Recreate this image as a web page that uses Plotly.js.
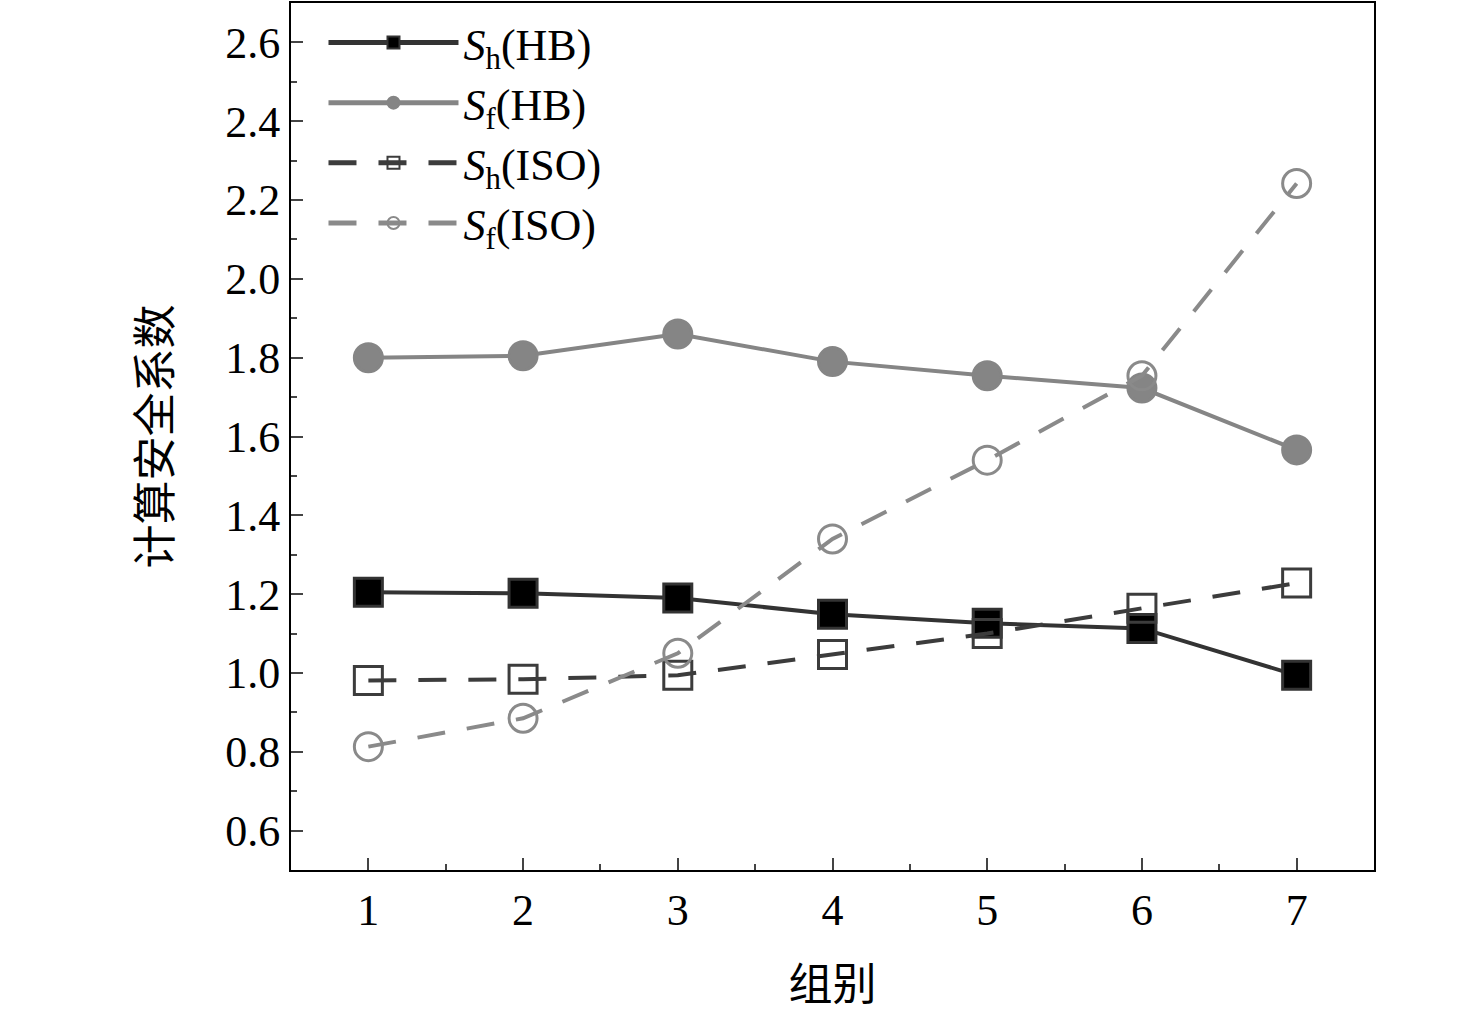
<!DOCTYPE html>
<html>
<head>
<meta charset="utf-8">
<script src="https://cdn.plot.ly/plotly-3.0.1.min.js"></script>
<style>body{margin:0;background:#fff}</style>
</head>
<body>
<div id="plot" style="width:1476px;height:1033px"></div>
<script>
// 组别与四组计算安全系数
let groups = [1, 2, 3, 4, 5, 6, 7];
let shHB = [1.205, 1.202, 1.19, 1.149, 1.126, 1.113, 0.994];
let sfHB = [1.80, 1.805, 1.86, 1.79, 1.754, 1.723, 1.566];
let shISO = [0.981, 0.984, 0.994, 1.047, 1.10, 1.164, 1.228];
let sfISO = [0.813, 0.885, 1.05, 1.34, 1.54, 1.754, 2.242];

function trace(y, name, color, symbol, dash, mfill) {
  return {
    x: groups, y: y, name: name, mode: "lines+markers", type: "scatter",
    line: {color: color, width: 4, dash: dash},
    marker: {symbol: symbol, size: 28, color: mfill, line: {color: color, width: 3}}
  };
}

var data = [
  trace(shHB, "<i>S</i><sub>h</sub>(HB)", "#333333", "square", "solid", "#000000"),
  trace(sfHB, "<i>S</i><sub>f</sub>(HB)", "#858585", "circle", "solid", "#858585"),
  trace(shISO, "<i>S</i><sub>h</sub>(ISO)", "#3c3c3c", "square-open", "28px,22px", "#3c3c3c"),
  trace(sfISO, "<i>S</i><sub>f</sub>(ISO)", "#8a8a8a", "circle-open", "28px,22px", "#8a8a8a")
];

var tickFont = {family: "Liberation Serif", size: 44, color: "#000"};
var layout = {
  width: 1476, height: 1033,
  margin: {t: 3, r: 102, b: 163, l: 291},
  paper_bgcolor: "#fff", plot_bgcolor: "#fff",
  showlegend: true,
  legend: {x: 0.03, y: 0.995, xanchor: "left", yanchor: "top", bgcolor: "rgba(0,0,0,0)",
           font: {family: "Liberation Serif", size: 44, color: "#000"},
           itemwidth: 130, itemsizing: "constant", tracegroupgap: 4},
  xaxis: {
    range: [0.5, 7.5], tickvals: groups, ticks: "inside", ticklen: 12, tickwidth: 2,
    showgrid: false, zeroline: false, showline: true, linecolor: "#000", linewidth: 2, mirror: true,
    tickfont: tickFont,
    minor: {dtick: 0.5, ticks: "inside", ticklen: 6, tickwidth: 2, tick0: 0.5},
    title: {text: "组别", font: {family: "Noto Sans CJK SC", size: 44, color: "#000"}, standoff: 35}
  },
  yaxis: {
    range: [0.5, 2.7], dtick: 0.2, tick0: 0.6, tickformat: ".1f", ticks: "inside", ticklen: 12, tickwidth: 2,
    showgrid: false, zeroline: false, showline: true, linecolor: "#000", linewidth: 2, mirror: true,
    tickfont: tickFont,
    minor: {dtick: 0.1, ticks: "inside", ticklen: 6, tickwidth: 2},
    title: {text: "计算安全系数", font: {family: "Noto Sans CJK SC", size: 44, color: "#000"}, standoff: 40}
  }
};

Plotly.newPlot("plot", data, layout, {displayModeBar: false});
</script>
</body>
</html>
